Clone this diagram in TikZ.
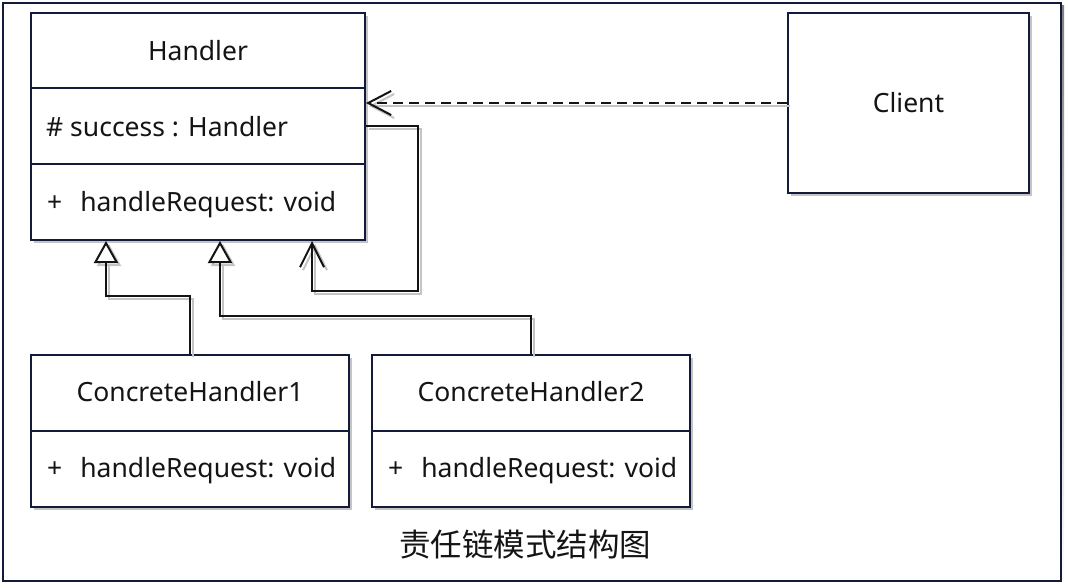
\documentclass[tikz,border=0pt]{standalone}
\usepackage{fontspec}
\setmainfont{Noto Sans}
\newfontfamily\cjk{Noto Sans CJK SC}
\usetikzlibrary{arrows.meta,calc,shadows}
\definecolor{navy}{HTML}{141A3A}
\definecolor{ink}{HTML}{141414}
\definecolor{shade}{HTML}{C4C4C4}
\begin{document}
\begin{tikzpicture}[x=1pt,y=-1pt,
  box/.style={draw=navy, line width=2pt, fill=white, inner sep=0pt,
    drop shadow={shadow xshift=3pt, shadow yshift=-3pt, fill=shade, opacity=1}},
  lbl/.style={font=\fontsize{26.5}{30}\selectfont, text=ink, inner sep=0pt},
  divider/.style={draw=navy, line width=2pt},
  conn/.style={draw=ink, line width=2.2pt,
    preaction={draw=shade, line width=2pt, transform canvas={shift={(3pt,-3pt)}}}},
  gen/.style={conn, -{Triangle[open, length=22pt, width=24pt, fill=white, line width=2pt]}},
  assoc/.style={conn, -{Straight Barb[length=24pt, width=24pt, line width=2pt]}},
  dep/.style={conn, dash pattern=on 10pt off 6pt, -{Straight Barb[length=23pt, width=24pt, line width=2pt]}},
]
\useasboundingbox (0,0) rectangle (1068,588);
% outer frame
\fill[shade] (6,6) rectangle (1064,584);
\draw[navy, line width=2.5pt, fill=white] (3,3) rectangle (1061,581);

% Handler
\node[box, minimum width=334pt, minimum height=227pt] (H) at (198,126.5) {};
\draw[divider] ($(H.north west)+(0,76)$) -- ($(H.north east)+(0,76)$);
\draw[divider] ($(H.north west)+(0,152)$) -- ($(H.north east)+(0,152)$);
\node[lbl] (Ht) at (198,51) {Handler};
\node[lbl, anchor=west] (Ha) at ($(H.north west)+(16,115)$) {\# success : Handler};
\node[lbl, anchor=west] (Hm) at ($(H.north west)+(17,193)$) {+\hspace{18pt}handleRequest: void};

% Client
\node[box, minimum width=241pt, minimum height=180pt] (Cl) at (908.5,103) {};
\node[lbl] (Clt) at (Cl.center) {Client};

% ConcreteHandler1
\node[box, minimum width=318pt, minimum height=152pt] (C1) at (190,431) {};
\draw[divider] (C1.west) -- (C1.east);
\node[lbl] (C1t) at ($(C1.north)+(0,38)$) {ConcreteHandler1};
\node[lbl, anchor=west] (C1m) at ($(C1.north west)+(17,117)$) {+\hspace{18pt}handleRequest: void};

% ConcreteHandler2
\node[box, minimum width=318pt, minimum height=152pt] (C2) at (531,431) {};
\draw[divider] (C2.west) -- (C2.east);
\node[lbl] (C2t) at ($(C2.north)+(0,38)$) {ConcreteHandler2};
\node[lbl, anchor=west] (C2m) at ($(C2.north west)+(17,117)$) {+\hspace{18pt}handleRequest: void};

% connectors
\draw[dep] (Cl.west) -- (Cl.west -| H.east);
\draw[assoc] ($(H.north east)+(0,114)$) -- ++(52,0) |- ($(H.south west)+(282,50)$) -- ($(H.south west)+(282,0)$);
\draw[gen] (C1.north) |- ($(H.south west)+(76,55)$) -- ($(H.south west)+(76,0)$);
\draw[gen] (C2.north) |- ($(H.south west)+(190,75)$) -- ($(H.south west)+(190,0)$);

% caption
\node[font=\cjk\fontsize{31.5}{34}\selectfont, text=ink, inner sep=0pt] (cap) at (525,545) {责任链模式结构图};
\end{tikzpicture}
\end{document}
